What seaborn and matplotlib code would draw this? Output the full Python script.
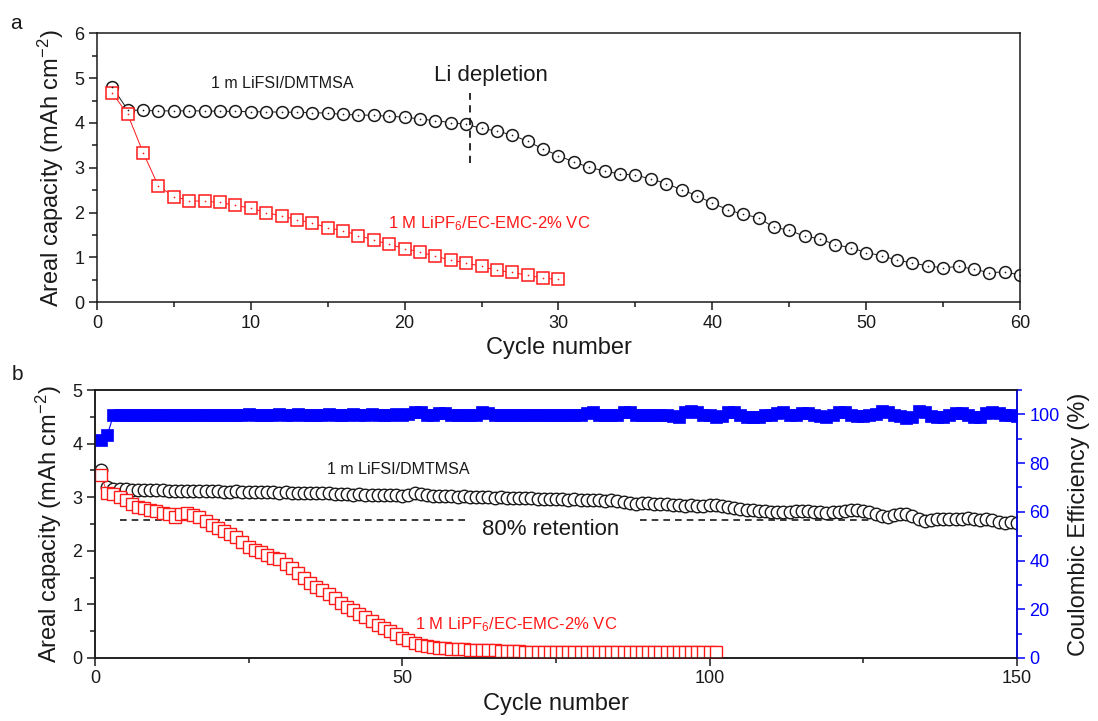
import matplotlib
matplotlib.use("Agg")
import matplotlib.pyplot as plt
import seaborn as sns
from matplotlib.ticker import MultipleLocator

# ---------------- Panel a data ----------------
cycles_a_dmtmsa = list(range(1, 61))
cap_a_dmtmsa = [4.80, 4.29, 4.28, 4.27, 4.27, 4.27, 4.27, 4.26, 4.26, 4.25,
                4.25, 4.24, 4.24, 4.23, 4.22, 4.19, 4.18, 4.17, 4.15, 4.13,
                4.09, 4.05, 4.01, 3.97, 3.88, 3.82, 3.73, 3.59, 3.42, 3.27,
                3.13, 3.01, 2.93, 2.86, 2.84, 2.75, 2.65, 2.51, 2.38, 2.21,
                2.07, 1.96, 1.89, 1.67, 1.61, 1.47, 1.42, 1.28, 1.22, 1.11,
                1.04, 0.94, 0.88, 0.81, 0.77, 0.80, 0.74, 0.66, 0.68, 0.61]
cycles_a_lipf6 = list(range(1, 31))
cap_a_lipf6 = [4.67, 4.19, 3.34, 2.59, 2.36, 2.27, 2.25, 2.23, 2.16, 2.10,
               2.00, 1.93, 1.84, 1.77, 1.66, 1.60, 1.49, 1.39, 1.29, 1.20,
               1.12, 1.03, 0.94, 0.88, 0.80, 0.71, 0.67, 0.60, 0.54, 0.51]

# ---------------- Panel b data ----------------
cycles_b_dmtmsa = list(range(1, 151))
cap_b_dmtmsa = [3.50, 3.20, 3.16, 3.15, 3.15, 3.14, 3.14, 3.14, 3.13, 3.13,
                3.13, 3.12, 3.12, 3.12, 3.12, 3.11, 3.12, 3.11, 3.11, 3.11,
                3.10, 3.10, 3.11, 3.10, 3.10, 3.09, 3.10, 3.09, 3.09, 3.08,
                3.09, 3.08, 3.08, 3.08, 3.07, 3.08, 3.07, 3.07, 3.06, 3.06,
                3.06, 3.05, 3.06, 3.05, 3.05, 3.04, 3.05, 3.04, 3.04, 3.03,
                3.04, 3.08, 3.06, 3.04, 3.03, 3.03, 3.02, 3.02, 3.01, 3.02,
                3.01, 3.00, 3.01, 3.00, 2.99, 3.00, 2.99, 2.98, 2.99, 2.98,
                2.98, 2.97, 2.97, 2.96, 2.97, 2.96, 2.95, 2.96, 2.95, 2.94,
                2.95, 2.94, 2.93, 2.94, 2.93, 2.92, 2.90, 2.88, 2.89, 2.90,
                2.88, 2.87, 2.88, 2.86, 2.85, 2.84, 2.85, 2.83, 2.84, 2.85,
                2.86, 2.84, 2.82, 2.80, 2.78, 2.76, 2.77, 2.75, 2.74, 2.73,
                2.73, 2.72, 2.73, 2.74, 2.75, 2.74, 2.73, 2.72, 2.71, 2.72,
                2.73, 2.75, 2.77, 2.76, 2.74, 2.72, 2.68, 2.65, 2.64, 2.66,
                2.68, 2.69, 2.65, 2.59, 2.56, 2.57, 2.59, 2.60, 2.60, 2.59,
                2.60, 2.61, 2.59, 2.58, 2.60, 2.57, 2.53, 2.52, 2.54, 2.52]
cycles_b_lipf6 = list(range(1, 102))
cap_b_lipf6 = [3.41, 3.07, 3.06, 3.01, 2.94, 2.88, 2.82, 2.79, 2.76, 2.75,
               2.71, 2.68, 2.63, 2.68, 2.70, 2.66, 2.63, 2.56, 2.48, 2.42,
               2.37, 2.32, 2.26, 2.17, 2.07, 2.02, 1.98, 1.92, 1.87, 1.84,
               1.76, 1.67, 1.58, 1.50, 1.40, 1.33, 1.26, 1.19, 1.12, 1.03,
               0.96, 0.90, 0.82, 0.76, 0.69, 0.61, 0.56, 0.50, 0.44, 0.38,
               0.33, 0.28, 0.25, 0.22, 0.20, 0.19, 0.18, 0.17, 0.16, 0.16,
               0.15, 0.15, 0.14, 0.14, 0.14, 0.13, 0.13, 0.13, 0.13, 0.12,
               0.12, 0.12, 0.12, 0.12, 0.12, 0.12, 0.12, 0.11, 0.12, 0.11,
               0.11, 0.11, 0.11, 0.11, 0.11, 0.11, 0.11, 0.11, 0.11, 0.11,
               0.11, 0.11, 0.11, 0.11, 0.11, 0.11, 0.11, 0.11, 0.11, 0.11, 0.11]
cycles_b_ce = list(range(1, 151))
ce_b = [89.4, 91.5, 99.6, 99.8, 99.7, 99.8, 99.8, 99.9, 99.8, 99.8,
        99.9, 99.8, 99.8, 99.9, 99.8, 99.8, 99.9, 99.8, 99.9, 99.8,
        99.9, 99.9, 99.8, 99.9, 100.0, 99.9, 99.9, 99.8, 99.9, 100.0,
        99.9, 99.9, 100.0, 99.9, 99.8, 99.9, 99.9, 100.0, 99.9, 99.9,
        99.9, 100.0, 99.9, 99.9, 100.0, 99.9, 99.8, 99.9, 100.0, 99.9,
        100.0, 100.9, 100.8, 99.9, 99.8, 100.7, 100.6, 99.9, 99.8, 99.9,
        99.8, 99.9, 100.8, 100.7, 99.9, 99.8, 99.9, 99.9, 99.8, 99.9,
        99.8, 99.9, 99.8, 99.7, 99.9, 99.8, 99.8, 99.9, 99.8, 100.7,
        100.8, 99.9, 99.8, 99.9, 99.8, 100.9, 100.8, 99.8, 99.7, 99.8,
        99.8, 99.7, 99.8, 99.3, 98.9, 100.8, 101.3, 101.1, 99.6, 99.8,
        99.0, 99.5, 100.9, 100.8, 99.8, 99.0, 99.1, 98.8, 99.7, 99.8,
        100.7, 100.8, 99.8, 99.6, 100.6, 100.7, 99.7, 99.5, 98.9, 99.6,
        100.9, 101.0, 99.6, 99.5, 99.4, 99.7, 100.2, 101.2, 100.9, 99.6,
        99.3, 98.6, 99.0, 101.2, 100.9, 99.4, 99.0, 98.9, 99.6, 100.6,
        100.7, 99.8, 99.1, 99.0, 100.5, 100.9, 100.6, 99.8, 99.6, 99.4]

label_dmtmsa = "1 m LiFSI/DMTMSA"
label_lipf6 = "1 M LiPF$_6$/EC-EMC-2% VC"

# ---------------- Style ----------------
sns.set_theme(style="ticks")
plt.rcParams['font.family'] = ['Liberation Sans', 'DejaVu Sans']
plt.rcParams['mathtext.fontset'] = 'custom'
plt.rcParams['mathtext.rm'] = 'Liberation Sans'
plt.rcParams['mathtext.it'] = 'Liberation Sans:italic'
plt.rcParams['mathtext.default'] = 'regular'
plt.rcParams['axes.linewidth'] = 1.1
plt.rcParams['axes.edgecolor'] = '#222222'

RED = '#ff1a1a'
BLUE = '#0000ff'
BLK = '#1a1a1a'

fig = plt.figure(figsize=(10.98, 7.21), dpi=100)
ax_a = fig.add_axes([0.0883, 0.5807, 0.8407, 0.3731])
ax_b = fig.add_axes([0.0865, 0.0874, 0.8397, 0.3716])


def style_axis(ax):
    ax.tick_params(axis='both', which='major', direction='out', length=6,
                   width=1.1, labelsize=13, colors=BLK, pad=3)
    ax.tick_params(axis='both', which='minor', direction='out', length=3.5,
                   width=1.1, colors=BLK)
    for s in ax.spines.values():
        s.set_linewidth(1.1)
        s.set_color(BLK)


# ---------------- Panel a ----------------
sns.lineplot(x=cycles_a_dmtmsa, y=cap_a_dmtmsa, ax=ax_a, color=BLK, lw=0.7,
             marker='o', markersize=8.5, markerfacecolor='white',
             markeredgecolor=BLK, markeredgewidth=1.1, estimator=None, sort=False)
sns.scatterplot(x=cycles_a_dmtmsa, y=cap_a_dmtmsa, ax=ax_a, s=1.5, color=BLK,
                linewidth=0, zorder=5)
sns.lineplot(x=cycles_a_lipf6, y=cap_a_lipf6, ax=ax_a, color=RED, lw=0.7,
             marker='s', markersize=8, markerfacecolor='white',
             markeredgecolor=RED, markeredgewidth=1.1, estimator=None, sort=False)
sns.scatterplot(x=cycles_a_lipf6, y=cap_a_lipf6, ax=ax_a, s=1.5, color=RED,
                linewidth=0, zorder=5)
ax_a.vlines(24.25, 3.1, 4.66, colors=BLK, linestyles=(0, (4, 3)), lw=1.3)
ax_a.set_xlim(0, 60)
ax_a.set_ylim(0, 6)
ax_a.xaxis.set_major_locator(MultipleLocator(10))
ax_a.xaxis.set_minor_locator(MultipleLocator(5))
ax_a.yaxis.set_major_locator(MultipleLocator(1))
ax_a.yaxis.set_minor_locator(MultipleLocator(0.5))
style_axis(ax_a)
ax_a.set_xlabel("Cycle number", fontsize=17, color=BLK, labelpad=4)
ax_a.set_ylabel("Areal capacity (mAh cm$^{-2}$)", fontsize=17, color=BLK, labelpad=6)
ax_a.text(12.07, 4.88, label_dmtmsa, fontsize=11.5, color=BLK, ha='center', va='center')
ax_a.text(25.6, 5.05, "Li depletion", fontsize=16, color=BLK, ha='center', va='center')
ax_a.text(25.5, 1.75, label_lipf6, fontsize=12, color=RED, ha='center', va='center')

# ---------------- Panel b ----------------
ax_b.hlines(2.57, 4.1, 60.6, colors=BLK, linestyles=(0, (4, 3)), lw=1.2, zorder=1)
ax_b.hlines(2.57, 88.6, 150, colors=BLK, linestyles=(0, (4, 3)), lw=1.2, zorder=1)
sns.lineplot(x=cycles_b_dmtmsa, y=cap_b_dmtmsa, ax=ax_b, color=BLK, lw=0.6,
             marker='o', markersize=9, markerfacecolor='white',
             markeredgecolor=BLK, markeredgewidth=1.0, estimator=None, sort=False,
             zorder=2)
sns.lineplot(x=cycles_b_lipf6, y=cap_b_lipf6, ax=ax_b, color=RED, lw=0.6,
             marker='s', markersize=8.5, markerfacecolor='white',
             markeredgecolor=RED, markeredgewidth=1.0, estimator=None, sort=False,
             zorder=3)
ax_b.set_xlim(0, 150)
ax_b.set_ylim(0, 5)
ax_b.xaxis.set_major_locator(MultipleLocator(50))
ax_b.xaxis.set_minor_locator(MultipleLocator(25))
ax_b.yaxis.set_major_locator(MultipleLocator(1))
ax_b.yaxis.set_minor_locator(MultipleLocator(0.5))
style_axis(ax_b)
ax_b.set_xlabel("Cycle number", fontsize=17, color=BLK, labelpad=4)
ax_b.set_ylabel("Areal capacity (mAh cm$^{-2}$)", fontsize=17, color=BLK, labelpad=6)
ax_b.text(49.3, 3.51, label_dmtmsa, fontsize=11.5, color=BLK, ha='center', va='center')
ax_b.text(74.2, 2.39, "80% retention", fontsize=16, color=BLK, ha='center', va='center')
ax_b.text(68.5, 0.62, label_lipf6, fontsize=12, color=RED, ha='center', va='center')

ax_b2 = ax_b.twinx()
sns.lineplot(x=cycles_b_ce, y=ce_b, ax=ax_b2, color=BLUE, lw=0.8,
             marker='s', markersize=8.5, markerfacecolor=BLUE,
             markeredgecolor=BLUE, markeredgewidth=0.5, estimator=None, sort=False)
ax_b2.set_ylim(0, 110)
ax_b2.yaxis.set_major_locator(MultipleLocator(20))
ax_b2.yaxis.set_minor_locator(MultipleLocator(10))
ax_b2.tick_params(axis='y', which='major', direction='out', length=6, width=1.1,
                  labelsize=13, colors=BLUE, pad=3)
ax_b2.tick_params(axis='y', which='minor', direction='out', length=3.5, width=1.1,
                  colors=BLUE)
for name, s in ax_b2.spines.items():
    s.set_linewidth(1.1)
    s.set_color(BLUE if name == 'right' else BLK)
ax_b2.set_ylabel("Coulombic Efficiency (%)", fontsize=17, color=BLK, labelpad=6)

fig.text(0.009, 0.968, "a", fontsize=15, color=BLK, ha='left', va='center')
fig.text(0.011, 0.48, "b", fontsize=15, color=BLK, ha='left', va='center')

fig.savefig("out.png", dpi=100)
